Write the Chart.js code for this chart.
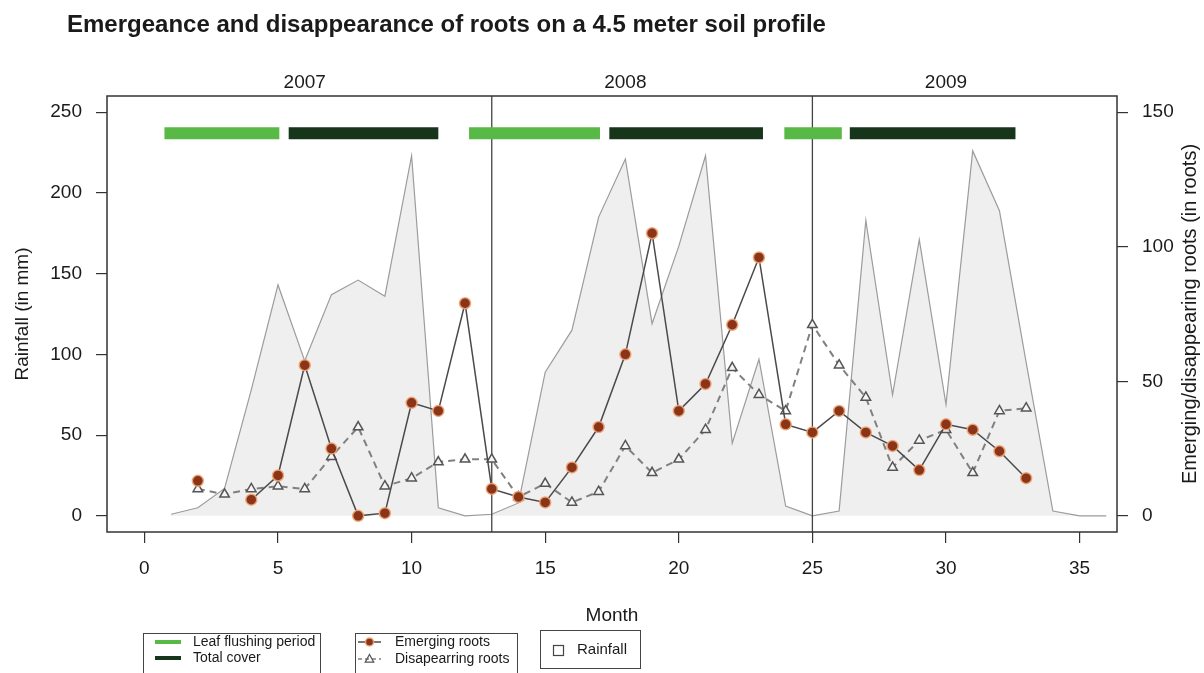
<!DOCTYPE html>
<html>
<head>
<meta charset="utf-8">
<script src="https://cdn.jsdelivr.net/npm/chart.js@4.4.0/dist/chart.umd.min.js"></script>
<style>
  body { margin: 0; background: #fff; }
</style>
</head>
<body>
<canvas id="rootsChart" width="1204" height="673"></canvas>
<script>
// Month index (1 = Jan 2007 ... 36 = Dec 2009)
const months = [1, 2, 3, 4, 5, 6, 7, 8, 9, 10, 11, 12,
                13, 14, 15, 16, 17, 18, 19, 20, 21, 22, 23, 24,
                25, 26, 27, 28, 29, 30, 31, 32, 33, 34, 35, 36];

// Rainfall (mm)
const rainfall = [1, 5, 17, 78, 143, 96, 137, 146, 136, 223, 5, 0,
                  1, 8, 89, 115, 185, 221, 119, 167, 223, 45, 97, 6,
                  0, 3, 183, 75, 171, 69, 226, 189, 95, 3, 0, 0];

// Roots counted on the profile
const emerging = [null, 13, null, 6, 15, 56, 25, 0, 1, 42, 39, 79,
                  10, 7, 5, 18, 33, 60, 105, 39, 49, 71, 96, 34,
                  31, 39, 31, 26, 17, 34, 32, 24, 14, null, null, null];
const disappearing = [null, 10, 8, 10, 11, 10, 22, 33, 11, 14, 20, 21,
                      21, 7, 12, 5, 9, 26, 16, 21, 32, 55, 45, 39,
                      71, 56, 44, 18, 28, 32, 16, 39, 40, null, null, null];

// Phenology periods (in months)
const flushStart = [0.75, 12.15, 23.95];
const flushEnd = [5.05, 17.05, 26.1];
const coverStart = [5.4, 17.4, 26.4];
const coverEnd = [11.0, 23.15, 32.6];
const barLevel = 237;

const xTicks = [0, 5, 10, 15, 20, 25, 30, 35];
const rainTicks = [0, 50, 100, 150, 200, 250];
const rootTicks = [0, 50, 100, 150];
const years = ['2007', '2008', '2009'];
const yearMid = [6, 18, 30];
const yearBreaks = [13, 25];

const FONT = "'Liberation Sans', Arial, Helvetica, sans-serif";
const TXT = '#1a1a1a';

const pts = vals => months.map((m, i) => ({ x: m, y: vals[i] }));

function periodPoints(starts, ends) {
    const out = [];
    starts.forEach((s, i) => {
        out.push({ x: s, y: barLevel }, { x: ends[i], y: barLevel }, { x: ends[i], y: null });
    });
    return out;
}

function drawTriangle(ctx, x, y, r) {
    ctx.beginPath();
    ctx.moveTo(x, y - r);
    ctx.lineTo(x + r * 0.95, y + r * 0.7);
    ctx.lineTo(x - r * 0.95, y + r * 0.7);
    ctx.closePath();
    ctx.stroke();
}

const extras = {
    id: 'extras',
    afterDatasetDraw(chart, args) {
        if (args.index !== 0) return;
        // year separators, drawn above the rainfall polygon
        const { ctx, chartArea: a, scales: { x } } = chart;
        ctx.save();
        ctx.strokeStyle = '#444';
        ctx.lineWidth = 1.3;
        yearBreaks.forEach(v => {
            const px = x.getPixelForValue(v);
            ctx.beginPath();
            ctx.moveTo(px, a.top);
            ctx.lineTo(px, a.bottom);
            ctx.stroke();
        });
        ctx.restore();
    },
    afterDraw(chart) {
        const { ctx, chartArea: a, scales: { x } } = chart;
        ctx.save();

        // plot box
        ctx.strokeStyle = '#333';
        ctx.lineWidth = 1.5;
        ctx.strokeRect(a.left, a.top, a.right - a.left, a.bottom - a.top);

        // title
        ctx.fillStyle = TXT;
        ctx.textBaseline = 'middle';
        ctx.textAlign = 'left';
        ctx.font = 'bold 24px ' + FONT;
        ctx.fillText('Emergeance and disappearance of roots on a 4.5 meter soil profile', 67, 25);

        // year labels
        ctx.font = '19px ' + FONT;
        ctx.textAlign = 'center';
        years.forEach((y, i) => ctx.fillText(y, x.getPixelForValue(yearMid[i]), 83));

        // right axis title
        ctx.save();
        ctx.font = '20px ' + FONT;
        ctx.translate(1190, (a.top + a.bottom) / 2);
        ctx.rotate(-Math.PI / 2);
        ctx.fillText('Emerging/disappearing roots (in roots)', 0, 0);
        ctx.restore();

        // legends
        ctx.strokeStyle = '#444';
        ctx.lineWidth = 1;
        ctx.strokeRect(143.5, 633.5, 177, 50);
        ctx.strokeRect(355.5, 633.5, 162, 50);
        ctx.strokeRect(540.5, 630.5, 100, 38);

        ctx.lineWidth = 4;
        ctx.strokeStyle = '#58b947';
        ctx.beginPath(); ctx.moveTo(155, 642); ctx.lineTo(181, 642); ctx.stroke();
        ctx.strokeStyle = '#17351a';
        ctx.beginPath(); ctx.moveTo(155, 658); ctx.lineTo(181, 658); ctx.stroke();

        ctx.lineWidth = 1.5;
        ctx.strokeStyle = '#4a4a4a';
        ctx.beginPath(); ctx.moveTo(358, 642); ctx.lineTo(381, 642); ctx.stroke();
        ctx.fillStyle = '#8a3519';
        ctx.strokeStyle = 'rgba(240,165,115,0.9)';
        ctx.beginPath(); ctx.arc(369.5, 642, 4, 0, Math.PI * 2); ctx.fill(); ctx.stroke();

        ctx.strokeStyle = '#808080';
        ctx.setLineDash([4, 3]);
        ctx.beginPath(); ctx.moveTo(358, 659); ctx.lineTo(381, 659); ctx.stroke();
        ctx.setLineDash([]);
        ctx.strokeStyle = '#555';
        ctx.lineWidth = 1.2;
        drawTriangle(ctx, 369.5, 659, 4.5);

        ctx.strokeStyle = '#444';
        ctx.lineWidth = 1.2;
        ctx.strokeRect(553.5, 645.5, 10, 10);

        ctx.fillStyle = TXT;
        ctx.textAlign = 'left';
        ctx.font = '14px ' + FONT;
        ctx.fillText('Leaf flushing period', 193, 642);
        ctx.fillText('Total cover', 193, 658);
        ctx.fillText('Emerging roots', 395, 642);
        ctx.fillText('Disapearring roots', 395, 659);
        ctx.font = '15px ' + FONT;
        ctx.fillText('Rainfall', 577, 650);

        ctx.restore();
    }
};

const tickGrid = { drawOnChartArea: false, drawTicks: true, tickLength: 11, color: '#333', lineWidth: 1.2 };
const tickFont = { family: FONT, size: 19 };

new Chart(document.getElementById('rootsChart').getContext('2d'), {
    type: 'line',
    data: {
        datasets: [
            {
                label: 'Rainfall',
                data: pts(rainfall),
                yAxisID: 'yRain',
                borderColor: '#9c9c9c',
                borderWidth: 1.2,
                backgroundColor: '#efefef',
                fill: 'origin',
                pointRadius: 0,
                order: 10
            },
            {
                label: 'Leaf flushing period',
                data: periodPoints(flushStart, flushEnd),
                yAxisID: 'yRain',
                borderColor: '#58b947',
                borderWidth: 12,
                pointRadius: 0,
                spanGaps: false,
                order: 5
            },
            {
                label: 'Total cover',
                data: periodPoints(coverStart, coverEnd),
                yAxisID: 'yRain',
                borderColor: '#17351a',
                borderWidth: 12,
                pointRadius: 0,
                spanGaps: false,
                order: 5
            },
            {
                label: 'Disapearring roots',
                data: pts(disappearing),
                yAxisID: 'yRoots',
                borderColor: '#808080',
                borderWidth: 2,
                borderDash: [7, 5],
                pointStyle: 'triangle',
                pointRadius: 5.5,
                pointBorderColor: '#555',
                pointBorderWidth: 1.5,
                pointBackgroundColor: 'rgba(245,245,245,1)',
                order: 2
            },
            {
                label: 'Emerging roots',
                data: pts(emerging),
                yAxisID: 'yRoots',
                borderColor: '#4a4a4a',
                borderWidth: 1.5,
                pointRadius: 5.5,
                pointBackgroundColor: '#8a3519',
                pointBorderColor: 'rgba(240,165,115,0.9)',
                pointBorderWidth: 1.5,
                spanGaps: false,
                order: 1
            }
        ]
    },
    options: {
        responsive: false,
        animation: false,
        devicePixelRatio: 1,
        layout: { padding: { top: 96, left: 0, right: 0, bottom: 0 } },
        plugins: { legend: { display: false }, tooltip: { enabled: false } },
        scales: {
            x: {
                type: 'linear',
                min: -1.4,
                max: 36.4,
                afterBuildTicks: s => { s.ticks = xTicks.map(v => ({ value: v })); },
                afterFit: s => { s.height = 141; },
                grid: tickGrid,
                border: { display: false },
                ticks: { font: tickFont, color: TXT, padding: 14, maxRotation: 0, autoSkip: false },
                title: { display: true, text: 'Month', font: tickFont, color: TXT, padding: { top: 0, bottom: 46 } }
            },
            yRain: {
                position: 'left',
                min: -10,
                max: 260,
                afterBuildTicks: s => { s.ticks = rainTicks.map(v => ({ value: v })); },
                afterFit: s => { s.width = 107; },
                grid: tickGrid,
                border: { display: false },
                ticks: { font: tickFont, color: TXT, padding: 14 },
                title: { display: true, text: 'Rainfall (in mm)', font: tickFont, color: TXT, padding: { top: 11, bottom: 0 } }
            },
            yRoots: {
                position: 'right',
                min: -6,
                max: 156,
                afterBuildTicks: s => { s.ticks = rootTicks.map(v => ({ value: v })); },
                afterFit: s => { s.width = 87; },
                grid: tickGrid,
                border: { display: false },
                ticks: { font: tickFont, color: TXT, padding: 14 }
            }
        }
    },
    plugins: [extras]
});
</script>
</body>
</html>
